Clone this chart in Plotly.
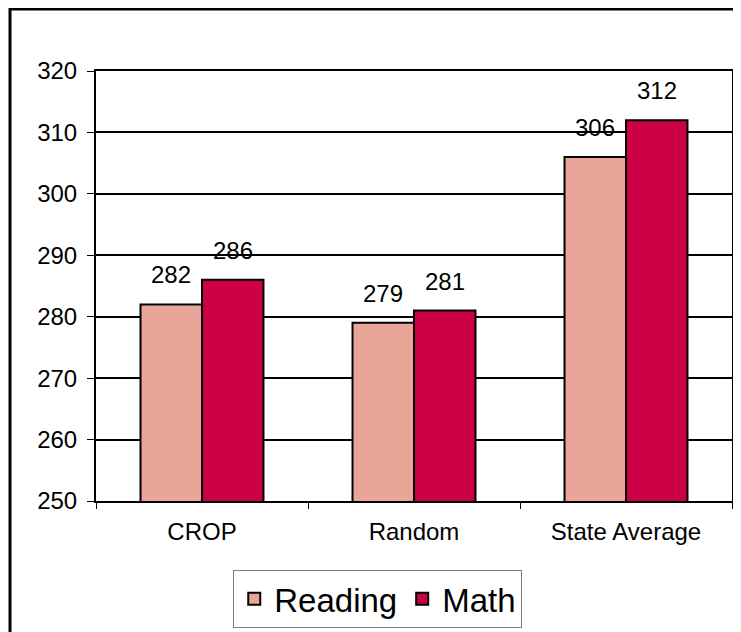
import plotly.graph_objects as go

categories = ['CROP', 'Random', 'State Average']
reading = [282, 279, 306]
math_scores = [286, 281, 312]

fig = go.Figure()
fig.add_trace(go.Bar(
    x=categories, y=reading, name='Reading',
    marker=dict(color='#E8A598', line=dict(color='black', width=2)),
))
fig.add_trace(go.Bar(
    x=categories, y=math_scores, name='Math',
    marker=dict(color='#CC0044', line=dict(color='black', width=2)),
))

# value labels above each bar, shifted to the left / right bar of the group
for vals, shift in [(reading, -31), (math_scores, 31)]:
    for cat, v in zip(categories, vals):
        fig.add_annotation(x=cat, y=v, text=str(v), showarrow=False,
                           xshift=shift, yshift=14, yanchor='bottom',
                           font=dict(size=24, color='black'))

# outer frame around the whole chart
fig.add_shape(type='rect', xref='paper', yref='paper',
              x0=-0.1352, x1=1.03, y0=-0.33, y1=1.1442,
              line=dict(color='black', width=3), layer='below')

fig.update_layout(
    width=741, height=632,
    margin=dict(l=88, r=17, t=63, b=135),
    paper_bgcolor='white', plot_bgcolor='white',
    font=dict(family='Liberation Sans, Arial, sans-serif', size=24, color='black'),
    barmode='group', bargap=0.42, bargroupgap=0,
    showlegend=True,
    legend=dict(orientation='h', x=0.443, xanchor='center', y=-0.16, yanchor='top',
                font=dict(size=33), bordercolor='#808080', borderwidth=1),
    xaxis=dict(showline=True, linecolor='black', linewidth=2, mirror=True,
               ticks='outside', tickson='boundaries', ticklen=6, tickcolor='black',
               tickfont=dict(size=24), ticklabelstandoff=8),
    yaxis=dict(range=[250, 320], dtick=10, showline=True, linecolor='black', linewidth=2,
               mirror=True, showgrid=True, gridcolor='black', gridwidth=2,
               ticks='outside', ticklen=7, tickcolor='black', tickfont=dict(size=24),
               ticklabelstandoff=5, zeroline=False),
)

fig.write_html("out.html")
